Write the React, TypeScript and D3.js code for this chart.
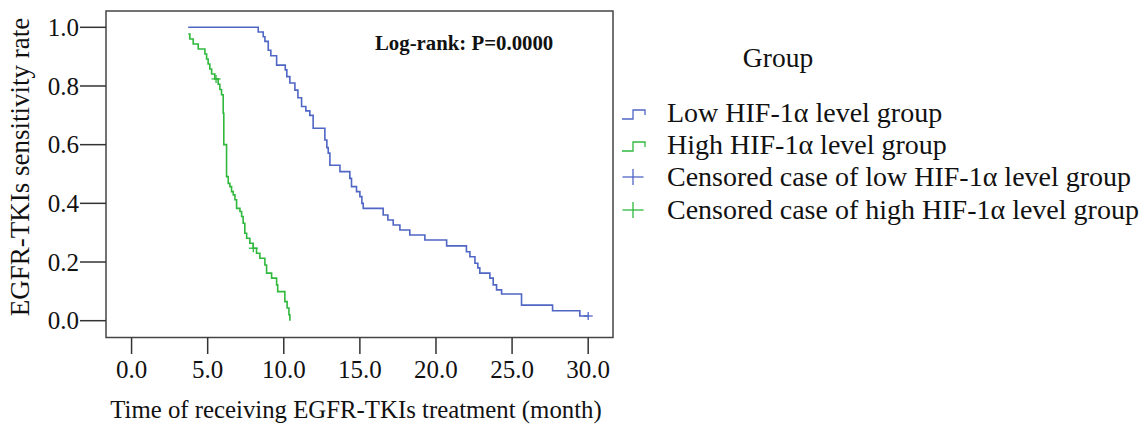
import React from "react";
import * as d3 from "d3";

// ---- data ----
const lowTimes = [3.72, 8.32, 8.65, 8.76, 8.98, 9.15, 9.53, 10.1, 10.2, 10.4, 10.73, 10.93, 11.17, 11.45, 11.71, 11.93, 12.7, 12.83, 12.92, 13.03, 13.69, 14.34, 14.45, 14.78, 15.0, 15.13, 15.22, 16.53, 16.84, 17.19, 17.63, 18.28, 19.27, 20.7, 22.0, 22.23, 22.56, 22.75, 22.88, 23.54, 23.76, 23.98, 24.31, 25.62, 27.66, 29.45, 30.0];
const lowSurv = [1.0, 0.984, 0.968, 0.952, 0.922, 0.903, 0.871, 0.855, 0.832, 0.81, 0.786, 0.76, 0.73, 0.715, 0.70, 0.656, 0.616, 0.59, 0.571, 0.53, 0.508, 0.485, 0.457, 0.44, 0.423, 0.40, 0.383, 0.36, 0.343, 0.326, 0.309, 0.292, 0.275, 0.255, 0.235, 0.218, 0.196, 0.18, 0.162, 0.145, 0.122, 0.105, 0.091, 0.053, 0.034, 0.016, 0.016];
const lowCensorTimes = [30.0];
const lowCensorSurv = [0.016];

const highTimes = [3.72, 3.83, 4.05, 4.38, 4.82, 4.93, 5.03, 5.14, 5.26, 5.47, 5.69, 5.8, 5.91, 6.02, 6.06, 6.24, 6.35, 6.46, 6.57, 6.68, 6.79, 6.9, 7.12, 7.23, 7.33, 7.44, 7.56, 7.77, 7.99, 8.21, 8.43, 8.76, 8.87, 9.2, 9.53, 9.6, 10.07, 10.22, 10.34, 10.4];
const highSurv = [0.977, 0.96, 0.943, 0.926, 0.909, 0.892, 0.875, 0.858, 0.841, 0.824, 0.806, 0.788, 0.77, 0.707, 0.6, 0.491, 0.468, 0.457, 0.44, 0.429, 0.412, 0.383, 0.372, 0.355, 0.332, 0.298, 0.281, 0.264, 0.247, 0.23, 0.213, 0.19, 0.162, 0.145, 0.122, 0.099, 0.065, 0.043, 0.02, 0.0];
const highCensorTimes = [5.55, 8.0];
const highCensorSurv = [0.824, 0.247];

const xTicks = [0, 5, 10, 15, 20, 25, 30];
const yTicks = [0, 0.2, 0.4, 0.6, 0.8, 1.0];

const legendTitle = "Group";
const legendLabels = [
  "Low HIF-1\u03b1 level group",
  "High HIF-1\u03b1 level group",
  "Censored case of low HIF-1\u03b1 level group",
  "Censored case of high HIF-1\u03b1 level group",
];
const xTitle = "Time of receiving EGFR-TKIs treatment (month)";
const yTitle = "EGFR-TKIs sensitivity rate";
const annotation = "Log-rank: P=0.0000";

const BLUE = "#4f66c4";
const GREEN = "#2fb83c";
const FONT = "'Liberation Serif', 'Times New Roman', serif";

export default function App() {
  const W = 1141, H = 424;
  const left = 106, right = 613, top = 11, bottom = 337.5;
  const x = d3.scaleLinear().domain([-1.68, 31.63]).range([left, right]);
  const y = d3.scaleLinear().domain([-0.0573, 1.0556]).range([bottom, top]);

  const line = d3
    .line<[number, number]>()
    .x((d) => x(d[0]))
    .y((d) => y(d[1]))
    .curve(d3.curveStepAfter);

  const lowPts = lowTimes.map((t, i) => [t, lowSurv[i]] as [number, number]);
  const highPts = highTimes.map((t, i) => [t, highSurv[i]] as [number, number]);

  const cross = (cx: number, cy: number, w: number, h: number, color: string, key: string) => (
    <g key={key} stroke={color} strokeWidth={1.3}>
      <line x1={cx - w / 2} x2={cx + w / 2} y1={cy} y2={cy} />
      <line x1={cx} x2={cx} y1={cy - h / 2} y2={cy + h / 2} />
    </g>
  );

  const legendRowsY = [113, 145, 177, 210];
  const legendColors = [BLUE, GREEN, BLUE, GREEN];

  return (
    <svg
      width={W}
      height={H}
      style={{ position: "absolute", left: 0, top: 0, background: "#fff" }}
      fontFamily={FONT}
    >
      <rect x={0} y={0} width={W} height={H} fill="#fff" />
      {/* frame */}
      <rect x={left} y={top} width={right - left} height={bottom - top} fill="none" stroke="#444" strokeWidth={1.5} />

      {/* y ticks */}
      {yTicks.map((v) => (
        <g key={"y" + v}>
          <line x1={80} x2={left} y1={y(v)} y2={y(v)} stroke="#333" strokeWidth={1.5} />
          <text x={79} y={y(v)} dy="0.35em" textAnchor="end" fontSize={25} fill="#111">
            {v.toFixed(1)}
          </text>
        </g>
      ))}
      {/* x ticks */}
      {xTicks.map((v) => (
        <g key={"x" + v}>
          <line x1={x(v)} x2={x(v)} y1={bottom} y2={354} stroke="#333" strokeWidth={1.5} />
          <text x={x(v)} y={378} textAnchor="middle" fontSize={25} fill="#111">
            {v.toFixed(1)}
          </text>
        </g>
      ))}

      {/* axis titles */}
      <text x={356} y={418} textAnchor="middle" fontSize={24.8} fill="#111">
        {xTitle}
      </text>
      <text
        transform={`translate(29,167) rotate(-90)`}
        textAnchor="middle"
        fontSize={27}
        fill="#111"
      >
        {yTitle}
      </text>

      {/* curves */}
      <path d={line(lowPts) || ""} fill="none" stroke={BLUE} strokeWidth={1.6} />
      <path d={line(highPts) || ""} fill="none" stroke={GREEN} strokeWidth={1.6} />
      {lowCensorTimes.map((t, i) => cross(x(t), y(lowCensorSurv[i]), 9, 8, BLUE, "lc" + i))}
      {highCensorTimes.map((t, i) => cross(x(t), y(highCensorSurv[i]), 9, 8, GREEN, "hc" + i))}

      {/* annotation */}
      <text x={375} y={50} fontSize={20.8} fontWeight="bold" fill="#111">
        {annotation}
      </text>

      {/* legend */}
      <text x={778} y={67} textAnchor="middle" fontSize={27.5} fill="#111">
        {legendTitle}
      </text>
      {legendLabels.map((lab, i) => {
        const cy = legendRowsY[i];
        const c = legendColors[i];
        return (
          <g key={"lg" + i}>
            {i < 2 ? (
              <path
                d={`M622,${cy + 6} H633 V${cy - 3} H645 V${cy + 2}`}
                fill="none"
                stroke={c}
                strokeWidth={1.3}
              />
            ) : (
              cross(633, cy, 21, 16, c, "lgc" + i)
            )}
            <text x={667} y={cy + 8.5} fontSize={28} fill="#111">
              {lab}
            </text>
          </g>
        );
      })}
    </svg>
  );
}
